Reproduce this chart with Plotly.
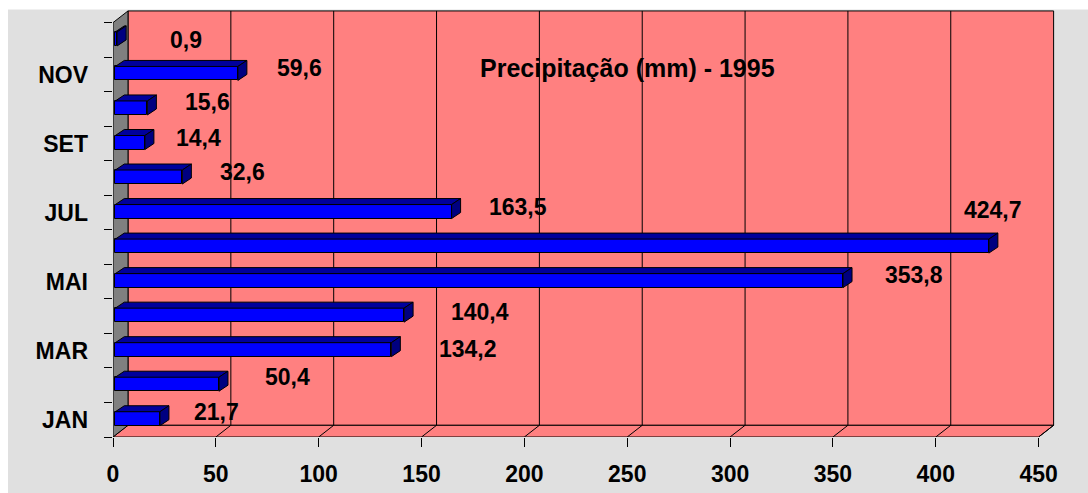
import plotly.graph_objects as go

# Monthly rainfall, 1995
months = ["JAN", "FEV", "MAR", "ABR", "MAI", "JUN",
          "JUL", "AGO", "SET", "OUT", "NOV", "DEZ"]
rain_mm = [21.7, 50.4, 134.2, 140.4, 353.8, 424.7,
           163.5, 32.6, 14.4, 15.6, 59.6, 0.9]
shown_months = ["JAN", "MAR", "MAI", "JUL", "SET", "NOV"]
x_ticks = [0, 50, 100, 150, 200, 250, 300, 350, 400, 450]
title_text = "Precipitação (mm) - 1995"

# pixel offsets of each value label from its bar end (x right, y up)
label_shift = [(57, 7), (69, 7), (77, 1), (76, 3), (71, 6), (4, 36),
               (66, 5), (60, 5), (54, 5), (60, 6), (62, 5), (69, -1)]

# ---- geometry of the pseudo-3D box (in axis units) ----
PX_X = 2.0569          # pixels per mm on x
PX_Y = 34.53           # pixels per category on y
X_MAX = 942 / PX_X
Y_MIN = -0.5
Y_MAX = Y_MIN + 427 / PX_Y
XEND = x_ticks[-1]
YTOP = len(months) - 0.5
DX = 15 / PX_X          # wall depth
DY = 11.7 / PX_Y
BDX = 9 / PX_X          # bar depth
BDY = 6 / PX_Y
BASE = 2.3 / PX_X       # bars start just inside the side wall
BAR_W = 14 / PX_Y
BAR_SHIFT = 1 / PX_Y

PINK = "#FF8080"
GREY_BG = "#E0E0E0"
FONT = "Liberation Sans"

ypos = list(range(len(months)))

fig = go.Figure()

# front faces of the bars
fig.add_trace(go.Bar(
    y=ypos, x=rain_mm, base=[BASE] * len(rain_mm), orientation="h",
    width=BAR_W, offset=-BAR_W / 2 + BAR_SHIFT,
    marker=dict(color="#0000FF", line=dict(color="black", width=1)),
    hoverinfo="skip", showlegend=False,
))

# top and end faces of the bars
top_x, top_y, end_x, end_y = [], [], [], []
for i, v in enumerate(rain_mm):
    y0 = i - BAR_W / 2 + BAR_SHIFT
    y1 = y0 + BAR_W
    x0 = BASE
    x1 = BASE + v
    top_x += [x0, x1, x1 + BDX, x0 + BDX, x0, None]
    top_y += [y1, y1, y1 + BDY, y1 + BDY, y1, None]
    end_x += [x1, x1 + BDX, x1 + BDX, x1, x1, None]
    end_y += [y0, y0 + BDY, y1 + BDY, y1, y0, None]

fig.add_trace(go.Scatter(
    x=top_x, y=top_y, mode="lines", fill="toself", fillcolor="#00009C",
    line=dict(color="black", width=1), hoverinfo="skip", showlegend=False,
))
fig.add_trace(go.Scatter(
    x=end_x, y=end_y, mode="lines", fill="toself", fillcolor="#000080",
    line=dict(color="black", width=1), hoverinfo="skip", showlegend=False,
))

# a second y axis carries the tick marks at the category boundaries
fig.add_trace(go.Scatter(x=[None], y=[None], yaxis="y2",
                         showlegend=False, hoverinfo="skip"))

shapes = []
edge = dict(color="black", width=1)
# back wall
shapes.append(dict(type="rect", xref="x", yref="y", layer="below",
                   x0=DX, x1=XEND + DX, y0=Y_MIN + DY, y1=YTOP + DY,
                   fillcolor=PINK, line=edge))
# floor
shapes.append(dict(type="path", xref="x", yref="y", layer="below",
                   path=f"M0,{Y_MIN} L{XEND},{Y_MIN} L{XEND + DX},{Y_MIN + DY} "
                        f"L{DX},{Y_MIN + DY} Z",
                   fillcolor=PINK, line=edge))
# side wall
shapes.append(dict(type="path", xref="x", yref="y", layer="below",
                   path=f"M0,{Y_MIN} L0,{YTOP} L{DX},{YTOP + DY} "
                        f"L{DX},{Y_MIN + DY} Z",
                   fillcolor="#808080", line=edge))
# gridlines on the back wall and across the floor
for t in x_ticks[1:-1]:
    shapes.append(dict(type="line", xref="x", yref="y", layer="below",
                       x0=t + DX, x1=t + DX, y0=Y_MIN + DY, y1=YTOP + DY,
                       line=edge))
for t in x_ticks[1:]:
    shapes.append(dict(type="line", xref="x", yref="y", layer="below",
                       x0=t, x1=t + DX, y0=Y_MIN, y1=Y_MIN + DY, line=edge))
# white border strips along the top and left of the page
shapes.append(dict(type="rect", xref="paper", yref="paper", layer="above",
                   x0=-0.2, x1=1.1, y0=(437 - 9.5) / 427, y1=1.1,
                   fillcolor="white", line=dict(width=0)))
shapes.append(dict(type="rect", xref="paper", yref="paper", layer="above",
                   x0=-0.2, x1=(8 - 113) / 942, y0=-0.2, y1=1.1,
                   fillcolor="white", line=dict(width=0)))

annotations = []
for i, v in enumerate(rain_mm):
    sx, sy = label_shift[i]
    annotations.append(dict(
        x=BASE + v, y=i + BAR_SHIFT, xref="x", yref="y",
        text=f"{v:.1f}".replace(".", ","), showarrow=False,
        xanchor="center", yanchor="middle", xshift=sx, yshift=sy,
        font=dict(family=FONT, size=23, color="black", weight="bold"),
    ))
annotations.append(dict(
    x=(627 - 113) / 942, y=(437 - 68) / 427, xref="paper", yref="paper",
    text=title_text, showarrow=False, xanchor="center", yanchor="middle",
    font=dict(family=FONT, size=25, color="black", weight="bold"),
))

fig.update_layout(
    width=1088, height=493,
    margin=dict(l=113, r=33, t=10, b=56, pad=0),
    paper_bgcolor=GREY_BG, plot_bgcolor="rgba(0,0,0,0)",
    showlegend=False, bargap=0,
    shapes=shapes, annotations=annotations,
    xaxis=dict(range=[0, X_MAX], tickvals=x_ticks,
               ticktext=[str(t) for t in x_ticks], automargin=False,
               ticks="outside", ticklen=9, tickcolor="black", tickwidth=1,
               showgrid=False, zeroline=False, showline=False,
               ticklabelstandoff=7,
               tickfont=dict(family=FONT, size=23, color="black",
                             weight="bold")),
    yaxis=dict(range=[Y_MIN, Y_MAX], automargin=False,
               tickvals=[months.index(m) for m in shown_months],
               ticktext=shown_months, ticks="",
               showgrid=False, zeroline=False, showline=False,
               ticklabelstandoff=24,
               tickfont=dict(family=FONT, size=23, color="black",
                             weight="bold")),
    yaxis2=dict(range=[Y_MIN, Y_MAX], overlaying="y", side="left",
                automargin=False,
                tickvals=[k - 0.5 for k in range(len(months) + 1)],
                showticklabels=False, ticks="outside", ticklen=8,
                tickcolor="black", tickwidth=1,
                showgrid=False, zeroline=False, showline=False),
)

fig.write_html("out.html")
